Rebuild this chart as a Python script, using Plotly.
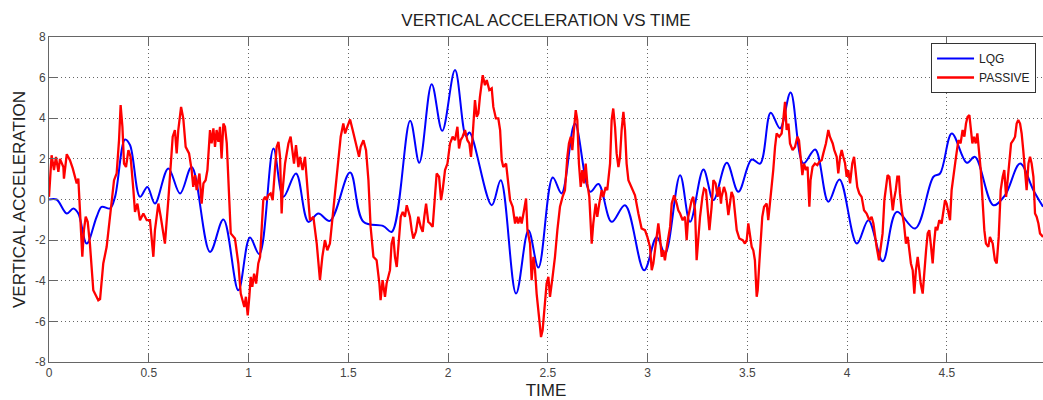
import plotly.graph_objects as go

# ---------------- data ----------------
lqg_t = [0, 0.038, 0.089, 0.122, 0.147, 0.189, 0.239, 0.264, 0.306, 0.331, 0.381, 0.406,
         0.456, 0.493, 0.531, 0.598, 0.657, 0.715, 0.807, 0.874, 0.949, 1.007, 1.054,
         1.125, 1.175, 1.238, 1.3, 1.35, 1.408, 1.509, 1.576, 1.676, 1.718, 1.81, 1.856,
         1.918, 1.971, 2.035, 2.09, 2.108, 2.219, 2.264, 2.341, 2.403, 2.453, 2.525,
         2.569, 2.636, 2.712, 2.754, 2.82, 2.887, 2.983, 3.046, 3.088, 3.163, 3.213,
         3.28, 3.33, 3.397, 3.455, 3.522, 3.564, 3.617, 3.664, 3.717, 3.781, 3.84,
         3.906, 3.962, 4.049, 4.107, 4.179, 4.249, 4.341, 4.433, 4.466, 4.525, 4.6,
         4.641, 4.733, 4.792, 4.867, 4.934, 4.982]
lqg_v = [0, 0, -0.69, -0.44, -0.69, -2.17, -0.85, -0.36, -0.44, 0.13, 2.95, 2.68,
         0.13, 0.62, -0.2, 1.53, 0.3, 1.6, -2.58, -0.98, -4.47, -1.87, -2.69,
         2.51, 0.13, 1.28, -1.1, -0.69, -1.05, 1.33, -1.1, -1.31, -1.59, 3.88, 1.81,
         5.68, 3.38, 6.37, 3.12, 3.3, -0.28, 0.95, -4.63, -1.51, -3.35, 1.08,
         0.3, 3.74, 0.38, 0.76, -1.1, -0.28, -3.48, -1.84, -2.66, 1.2, -1.1,
         1.48, -0.03, 1.81, 0.38, 1.97, 1.77, 4.27, 3.5, 5.27, 1.77, 2.46,
         -0.11, 0.99, -2.17, -1.02, -3.04, -0.61, -1.43, 1.12, 1.28, 3.25, 1.81,
         2.1, -0.28, 0.21, 1.77, 0.46, -0.36]

passive_t = [0, 0.013, 0.025, 0.035, 0.047, 0.055, 0.072, 0.075, 0.089, 0.105, 0.119, 0.13,
             0.139, 0.147, 0.155, 0.167, 0.175, 0.184, 0.194, 0.205, 0.222, 0.247, 0.256,
             0.264, 0.272, 0.289, 0.302, 0.314, 0.326, 0.339, 0.351, 0.359, 0.368, 0.376,
             0.386, 0.398, 0.409, 0.423, 0.431, 0.443, 0.456, 0.473, 0.49, 0.506, 0.523,
             0.531, 0.548, 0.56, 0.581, 0.598, 0.61, 0.62, 0.631, 0.64, 0.648, 0.662,
             0.673, 0.685, 0.702, 0.715, 0.723, 0.732, 0.74, 0.754, 0.765, 0.774, 0.785,
             0.794, 0.807, 0.815, 0.824, 0.832, 0.84, 0.849, 0.857, 0.865, 0.874, 0.882,
             0.891, 0.899, 0.911, 0.932, 0.949, 0.961, 0.971, 0.979, 0.987, 0.996, 1.004,
             1.011, 1.019, 1.028, 1.038, 1.049, 1.058, 1.066, 1.074, 1.083, 1.091, 1.099,
             1.111, 1.121, 1.133, 1.141, 1.15, 1.158, 1.166, 1.171, 1.183, 1.2, 1.211,
             1.221, 1.228, 1.238, 1.25, 1.258, 1.271, 1.283, 1.292, 1.308, 1.325, 1.342,
             1.358, 1.37, 1.383, 1.395, 1.408, 1.422, 1.434, 1.45, 1.462, 1.475, 1.484,
             1.495, 1.509, 1.522, 1.534, 1.542, 1.554, 1.562, 1.576, 1.589, 1.601, 1.612,
             1.626, 1.642, 1.656, 1.662, 1.672, 1.684, 1.692, 1.709,
             1.717, 1.726, 1.734, 1.743, 1.751, 1.763, 1.773, 1.784, 1.793, 1.801, 1.809,
             1.818, 1.826, 1.839, 1.851, 1.863, 1.873, 1.881, 1.89, 1.901, 1.91, 1.923,
             1.931, 1.943, 1.955, 1.965, 1.973, 1.985, 1.997, 2.01, 2.023, 2.035, 2.047,
             2.055, 2.063, 2.073, 2.085, 2.097, 2.107, 2.115, 2.123, 2.135, 2.144, 2.152,
             2.16, 2.174, 2.185, 2.194, 2.207, 2.219, 2.227, 2.24, 2.252, 2.261, 2.269,
             2.277, 2.291, 2.299, 2.311, 2.324, 2.336, 2.344, 2.352, 2.361, 2.369, 2.381,
             2.391, 2.398, 2.411, 2.419, 2.428, 2.436, 2.444, 2.456, 2.466, 2.474, 2.486,
             2.494, 2.503, 2.511,
             2.524, 2.536, 2.548, 2.561, 2.574, 2.586, 2.598, 2.606, 2.615, 2.623, 2.631,
             2.64, 2.648, 2.656, 2.665, 2.673, 2.681, 2.69, 2.698, 2.708, 2.72, 2.728,
             2.74, 2.748, 2.758, 2.77, 2.778, 2.79, 2.798, 2.812, 2.82, 2.828, 2.837,
             2.845, 2.854, 2.862, 2.87, 2.879, 2.887, 2.895, 2.904, 2.92, 2.937, 2.954,
             2.97, 2.987, 2.999, 3.012, 3.021, 3.029, 3.042, 3.054, 3.062, 3.071, 3.079,
             3.087, 3.099, 3.113, 3.121, 3.133, 3.146, 3.154, 3.163, 3.176, 3.188, 3.196,
             3.204, 3.213, 3.221, 3.229, 3.238, 3.246, 3.255, 3.263, 3.275, 3.283, 3.293,
             3.303, 3.31, 3.321, 3.33, 3.341, 3.351, 3.36, 3.368,
             3.371, 3.383, 3.393, 3.405, 3.413, 3.421, 3.43, 3.438, 3.447, 3.46, 3.477,
             3.488, 3.497, 3.505, 3.513, 3.522, 3.53, 3.538, 3.547, 3.552, 3.56, 3.567,
             3.575, 3.584, 3.597, 3.605, 3.614, 3.622, 3.63, 3.639, 3.647, 3.66, 3.672,
             3.68, 3.689, 3.697, 3.706, 3.714, 3.727, 3.739, 3.751, 3.759, 3.767, 3.776,
             3.784, 3.794, 3.802, 3.811, 3.817, 3.827, 3.839, 3.851, 3.861, 3.873, 3.881,
             3.894, 3.906, 3.914, 3.928, 3.936, 3.948, 3.956, 3.965, 3.973, 3.981, 3.99,
             3.998, 4.006, 4.015, 4.026, 4.035, 4.043, 4.051, 4.061, 4.073, 4.085, 4.098,
             4.112, 4.123, 4.132, 4.14, 4.148, 4.16, 4.17, 4.178, 4.187, 4.195, 4.203,
             4.212, 4.22, 4.229, 4.235, 4.244, 4.252, 4.26, 4.265,
             4.274, 4.285, 4.295, 4.304, 4.312, 4.32, 4.329, 4.337, 4.345, 4.354, 4.362,
             4.369, 4.379, 4.387, 4.396, 4.404, 4.412, 4.421, 4.429, 4.436, 4.444, 4.452,
             4.462, 4.474, 4.482, 4.491, 4.499, 4.508, 4.516, 4.524, 4.536, 4.546, 4.558,
             4.569, 4.579, 4.588, 4.596, 4.604, 4.613, 4.619, 4.628, 4.636, 4.645, 4.653,
             4.661, 4.67, 4.68, 4.688, 4.696, 4.708, 4.716, 4.73, 4.741, 4.75, 4.76,
             4.77, 4.78, 4.788, 4.797, 4.805, 4.813, 4.822, 4.833, 4.842, 4.85, 4.858,
             4.867, 4.875, 4.883, 4.892, 4.9, 4.909, 4.917, 4.925, 4.934, 4.942, 4.95,
             4.959, 4.967, 4.982]
passive_v = [0.13, 2.18, 1.45, 2.1, 1.36, 2.0, 1.6, 1.03, 2.23, 1.94, 1.53, 1.12,
             0.79, 1.03, -0.85, -2.82, -1.51, -0.85, -1.1, -2.17, -4.47, -4.96, -4.9,
             -3.97, -3.15, -2.33, -1.18, -0.2, 0.95, 1.28, 2.92, 4.65, 3.58, 1.77,
             1.6, 2.43, 2.1, 0.46, -0.61, -0.2, -1.02, -0.69, -1.02, -1.02, -2.82,
             -1.51, -0.2, -0.85, -2.17, -0.03, 1.45, 3.09, 3.42, 2.27, 3.42, 4.56,
             3.99, 2.59, 2.27, 1.45, 0.62, 1.2, 0.46, 1.28, -0.2, 0.79, 0.95,
             1.45, 3.42, 2.76, 3.5, 2.59, 3.42, 2.84, 3.58, 2.02, 3.74, 3.58,
             2.76, 0.95, -1.67, -1.92, -3.15, -4.63, -4.96, -5.29, -4.79, -5.7, -4.79,
             -3.81, -4.3, -3.65, -4.14, -3.15, -2.82, -1.67, -0.03, 0.13, -0.03, 0.21,
             0.3, -0.03, 1.53, 2.59, 2.84, 2.1, -0.69, 0.46, 1.77, 2.76, 3.09,
             2.43, 1.77, 2.68, 1.6, 2.1, 1.45, 2.1, 0.79, -1.02, -0.85, -2.17,
             -3.97, -2.82, -2.0, -2.5, -2.17, -0.85, 0.13, 1.77, 3.09, 3.74, 3.25,
             3.58, 3.94, 3.42, 2.92, 2.59, 2.1, 2.59, 2.92, 2.43, 0.95, -1.35,
             -2.82, -2.99, -4.14, -4.96, -3.97, -4.79, -4.14, -3.48,
             -2.17, -1.84, -2.82, -3.32, -2.17, -0.85, -0.61, -0.85, -0.28, -0.61, -0.85,
             -1.51, -1.92, -1.59, -0.85, -1.35, -1.59, -0.85, -0.2, -1.1, -1.18, -1.35,
             -0.2, 1.28, 1.12, -0.03, 0.46, 1.45, 1.77, 2.76, 3.09, 2.92, 3.58,
             2.51, 2.92, 3.09, 3.42, 2.92, 2.76, 2.1, 3.09, 4.89, 4.07, 4.24,
             5.06, 6.12, 5.63, 5.88, 5.39, 5.47, 4.56, 3.99, 3.99, 3.42, 1.94,
             1.6, 1.77, 1.12, -0.03, -0.36, -1.18, -0.85, -1.18, -0.85, -1.18, -0.53,
             0.05, -1.51, -2.17, -3.97, -2.82, -3.48, -4.63, -5.78, -6.77, -6.44, -4.79,
             -4.14, -3.81, -4.79,
             -3.81, -2.82, -1.51, -0.36, 0.13, 0.46, 2.1, 2.76, 3.09, 2.43, 3.42,
             4.4, 3.91, 1.77, 0.62, 1.45, 0.79, 1.77, 0.79, 0.13, -2.17, -1.18,
             -0.2, -0.85, -0.2, 0.46, 0.13, 0.62, 0.46, 1.77, 3.91, 4.48, 3.58,
             2.27, 1.6, 2.1, 3.42, 4.32, 3.42, 1.77, 0.95, 0.62, 0.21, -0.69,
             -1.43, -1.51, -1.84, -2.33, -3.48, -3.15, -2.17, -1.18, -1.84, -2.82, -2.5,
             -2.99, -2.17, -1.35, -0.2, 0.21, -0.2, -0.53, -0.69, -1.02, -0.85, -2.0,
             -0.85, -0.36, -0.03, 0.13, -0.53, -2.99, -1.84, -0.85, 0.13, 0.54, 0.46,
             -0.85, -1.51, -0.36, 0.95, 0.79, 0.13, 0.62, -0.2,
             0.13, 0.62, 0.3, -0.77, -0.2, 0.38, 0.13, -0.85, -1.51, -1.92, -2.0,
             -2.17, -2.0, -1.18, -1.67, -2.33, -2.5, -2.99, -4.79, -4.47, -3.15, -1.84,
             -0.85, -0.36, -0.2, -1.02, -0.2, 0.79, 1.45, 2.59, 3.25, 3.09, 3.25,
             3.91, 4.81, 3.42, 3.74, 2.76, 2.43, 2.59, 3.09, 2.92, 2.1, 1.2,
             1.77, 1.45, 1.61, -0.36, 0.95, 1.61, 1.77, 1.69, 1.86, 1.94, 2.27,
             2.76, 3.42, 3.09, 2.76, 2.43, 2.1, 1.28, 2.1, 2.43, 2.1, 1.77,
             1.12, 1.45, 0.79, 1.77, 2.1, 1.45, 0.62, 0.3, 0.13, -0.53, -0.69,
             -1.02, -0.85, -1.18, -1.84, -2.33, -2.99, -2.33, -1.67, -0.03, 0.62, 1.2,
             1.12, 0.13, -0.53, -0.03, 0.46, 1.12, 1.12, 0.3,
             -0.53, -1.18, -2.17, -1.84, -2.5, -3.15, -3.48, -4.63, -3.48, -2.82, -3.48,
             -4.14, -4.63, -3.48, -2.5, -1.67, -1.51, -2.33, -3.15, -2.17, -1.35, -1.51,
             -1.02, -1.18, -0.53, -0.03, -0.2, -0.69, -1.02, 0.46, 1.45, 2.1, 2.92,
             2.76, 3.42, 3.09, 3.74, 4.07, 4.15, 3.42, 2.76, 3.09, 2.76, 3.25,
             2.43, 1.45, -0.2, -1.51, -2.17, -2.33, -1.84, -2.17, -2.99, -3.15, -1.84,
             0.46, 1.12, 1.45, 0.13, 0.95, 1.77, 2.76, 2.92, 3.09, 3.74, 3.91,
             3.74, 3.25, 2.43, 1.28, 0.46, 1.77, 2.1, 1.77, 1.12, -0.69, -0.85,
             -1.18, -1.67, -1.84]

x_tick_vals = [0, 0.5, 1, 1.5, 2, 2.5, 3, 3.5, 4, 4.5]
x_tick_text = ["0", "0.5", "1", "1.5", "2", "2.5", "3", "3.5", "4", "4.5"]
y_tick_vals = [-8, -6, -4, -2, 0, 2, 4, 6, 8]
y_tick_text = ["-8", "-6", "-4", "-2", "0", "2", "4", "6", "8"]

# ---------------- figure ----------------
FONT = "Liberation Sans, Arial, sans-serif"
fig = go.Figure()
fig.add_trace(go.Scatter(x=lqg_t, y=lqg_v, mode="lines", name="LQG",
                         line=dict(color="#0000ff", width=2, shape="spline", smoothing=1.0)))
fig.add_trace(go.Scatter(x=passive_t, y=passive_v, mode="lines", name="PASSIVE",
                         line=dict(color="#ff0000", width=2.3)))

axis_common = dict(
    showgrid=True, gridcolor="#666666", griddash="1px,3px", gridwidth=1,
    showline=True, linecolor="#666666", linewidth=1,
    ticks="inside", ticklen=9, tickcolor="#666666",
    tickfont=dict(family=FONT, size=12, color="#444444"),
    zeroline=False,
)

fig.update_layout(
    width=1043, height=400,
    margin=dict(l=49, r=0, t=37, b=38),
    paper_bgcolor="white", plot_bgcolor="white",
    font=dict(family=FONT, color="#222222"),
    title=dict(text="VERTICAL ACCELERATION VS TIME", x=546 / 1043, xref="container",
               xanchor="center", y=1 - 20.5 / 400, yref="container", yanchor="middle",
               font=dict(family=FONT, size=17, color="#222222")),
    xaxis=dict(range=[0, 4.982], tickvals=x_tick_vals, ticktext=x_tick_text,
               mirror="ticks",
               title=dict(text="TIME", font=dict(family=FONT, size=17, color="#222222"),
                          standoff=4),
               **axis_common),
    yaxis=dict(range=[-8, 8], tickvals=y_tick_vals, ticktext=y_tick_text,
               mirror=False,
               title=dict(text="VERTICAL ACCELERATION",
                          font=dict(family=FONT, size=17, color="#222222"),
                          standoff=4),
               **axis_common),
    legend=dict(x=0.993, xanchor="right", y=0.9815, yanchor="top",
                bordercolor="#333333", borderwidth=1, bgcolor="white",
                font=dict(family=FONT, size=12, color="#222222"),
                tracegroupgap=0, itemwidth=37),
    showlegend=True,
)

fig.write_html("out.html", config={"displayModeBar": False},
               post_script="document.body.style.margin='0';")
